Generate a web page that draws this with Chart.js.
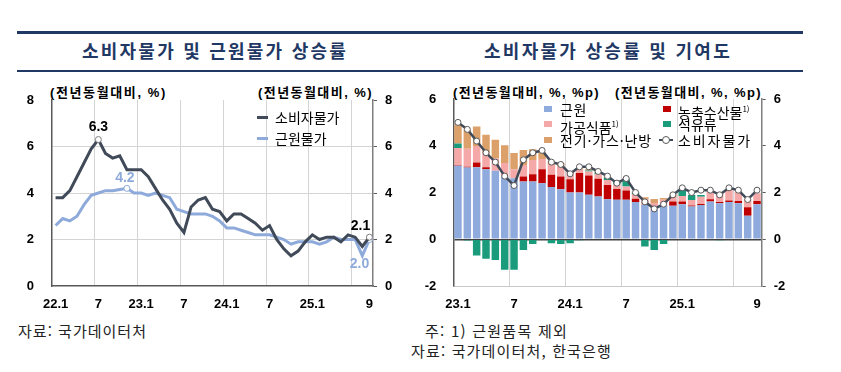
<!DOCTYPE html>
<html lang="ko">
<head>
<meta charset="UTF-8">
<title>소비자물가 및 근원물가 상승률</title>
<script src="https://cdn.jsdelivr.net/npm/chart.js"></script>
<style>
    body {
        margin: 0;
        width: 841px;
        height: 372px;
        position: relative;
        overflow: hidden;
        background: #fff;
        font-family: "Liberation Sans", "Noto Sans CJK KR", sans-serif;
        color: #000;
    }
    .abs { position: absolute; white-space: nowrap; }
    .rule { position: absolute; left: 17px; width: 786px; background: #1f3864; }
    .title { font: bold 18px "Noto Sans CJK KR", sans-serif; color: #1f3864; line-height: 24px; top: 38px; }
    .unit { font: bold 13px "Liberation Sans", "Noto Sans CJK KR", sans-serif; line-height: 16px; top: 85px; }
    .leg { font: 14px "Noto Sans CJK KR", sans-serif; line-height: 16px; }
    .leg sup { font-size: 8px; vertical-align: 6px; }
    .note { font: 15px "Noto Sans CJK KR", sans-serif; line-height: 16px; color: #222; }
    .sq { position: absolute; width: 8px; height: 6px; }
    canvas { position: absolute; top: 0; }
</style>
</head>
<body>
    <div class="rule" style="top:31px;height:3px"></div>
    <div class="rule" style="top:70px;height:2px"></div>

    <div class="abs title fit" data-w="266" style="left:82px">소비자물가 및 근원물가 상승률</div>
    <div class="abs title fit" data-w="248" style="left:484px">소비자물가 상승률 및 기여도</div>

    <div class="abs unit fit" data-w="117" style="left:50px">(전년동월대비, %)</div>
    <div class="abs unit fit" data-w="115" style="left:258px">(전년동월대비, %)</div>
    <div class="abs unit fit" data-w="147" style="left:453px">(전년동월대비, %, %p)</div>
    <div class="abs unit fit" data-w="147" style="left:615px">(전년동월대비, %, %p)</div>

    <canvas id="leftChart" width="420" height="320" style="left:0"></canvas>
    <canvas id="rightChart" width="421" height="320" style="left:420px"></canvas>

    <!-- left legend -->
    <div class="abs" style="left:257px;top:116px;width:11px;height:3px;background:#404a58"></div>
    <div class="abs leg" style="left:275px;top:109px">소비자물가</div>
    <div class="abs" style="left:257px;top:137px;width:11px;height:3px;background:#8eaadb"></div>
    <div class="abs leg" style="left:275px;top:130px">근원물가</div>

    <!-- right legend -->
    <div class="sq" style="left:544px;top:106px;background:#8faadc"></div>
    <div class="abs leg fit" data-w="27" style="left:560px;top:101px">근원</div>
    <div class="sq" style="left:544px;top:121px;background:#f4a8a8"></div>
    <div class="abs leg" style="left:560px;top:116px">가공식품<sup>1)</sup></div>
    <div class="sq" style="left:544px;top:137px;background:#dca06a"></div>
    <div class="abs leg fit" data-w="92" style="left:560px;top:132px">전기·가스·난방</div>
    <div class="sq" style="left:663px;top:106px;background:#c00000"></div>
    <div class="abs leg" style="left:678px;top:101px">농축수산물<sup>1)</sup></div>
    <div class="sq" style="left:663px;top:121px;background:#1a9c7c"></div>
    <div class="abs leg" style="left:678px;top:116px">석유류</div>
    <div class="abs" style="left:659px;top:139px;width:14px;height:2px;background:#404a58"></div>
    <div class="abs" style="left:662px;top:136px;width:6px;height:6px;border:1px solid #595959;border-radius:50%;background:#fff"></div>
    <div class="abs leg fit" data-w="74" style="left:678px;top:132px">소비자물가</div>

    <div class="abs note fit" data-w="129" style="left:18px;top:323px">자료: 국가데이터처</div>
    <div class="abs note fit" data-w="143" style="left:425px;top:323px">주: 1) 근원품목 제외</div>
    <div class="abs note fit" data-w="201" style="left:411px;top:343px">자료: 국가데이터처, 한국은행</div>

<script>
    // categories
    const months = [
        '22.1','22.2','22.3','22.4','22.5','22.6','22.7','22.8','22.9','22.10','22.11','22.12',
        '23.1','23.2','23.3','23.4','23.5','23.6','23.7','23.8','23.9','23.10','23.11','23.12',
        '24.1','24.2','24.3','24.4','24.5','24.6','24.7','24.8','24.9','24.10','24.11','24.12',
        '25.1','25.2','25.3','25.4','25.5','25.6','25.7','25.8','25.9'
    ];
    const tickMonths = ['22.1','22.7','23.1','23.7','24.1','24.7','25.1','25.9'];
    const tickText   = ['22.1','7','23.1','7','24.1','7','25.1','9'];
    const gridMonths = ['22.7','23.1','23.7','24.1','24.7','25.1','25.7'];

    // left chart: 소비자물가 / 근원물가 (%)
    const cpi = [
        3.8, 3.8, 4.1, 4.7, 5.3, 5.9, 6.3, 5.7, 5.5, 5.6, 5.0, 5.0,
        5.0, 4.7, 4.2, 3.7, 3.3, 2.7, 2.3, 3.4, 3.7, 3.8, 3.3, 3.2,
        2.8, 3.1, 3.1, 2.9, 2.7, 2.4, 2.6, 2.0, 1.6, 1.3, 1.5, 1.9,
        2.2, 2.0, 2.1, 2.1, 1.9, 2.2, 2.1, 1.7, 2.1
    ];
    const core = [
        2.6, 2.9, 2.8, 3.0, 3.5, 3.9, 4.0, 4.1, 4.1, 4.15, 4.2, 4.0,
        4.0, 3.9, 4.0, 3.9, 3.8, 3.3, 3.2, 3.1, 3.1, 3.1, 3.0, 2.8,
        2.5, 2.5, 2.4, 2.3, 2.2, 2.2, 2.2, 2.1, 2.0, 1.8, 1.9, 1.9,
        1.9, 1.8, 1.9, 2.1, 2.0, 2.0, 2.0, 1.3, 2.0
    ];
    const cpiMarks = ['22.7', '25.9'];
    const coreMarks = ['22.11', '25.9'];

    // right chart: 기여도 (%p), 23.1 ~ 25.9
    const months2 = months.slice(12);
    const contribCore = [
        3.14, 3.07, 3.08, 3.00, 2.93, 2.69, 2.61, 2.47, 2.47, 2.40, 2.23, 2.14,
        2.00, 2.00, 1.90, 1.83, 1.71, 1.69, 1.69, 1.59, 1.47, 1.26, 1.43, 1.43,
        1.50, 1.40, 1.47, 1.61, 1.54, 1.59, 1.54, 1.01, 1.50
    ];
    const contribAgri = [
        0.03, 0.03, 0.20, 0.08, 0.00, 0.00, 0.00, 0.21, 0.31, 0.60, 0.53, 0.54,
        0.57, 0.83, 0.83, 0.76, 0.61, 0.46, 0.40, 0.14, 0.00, 0.00, 0.00, 0.19,
        0.11, 0.04, 0.04, 0.10, 0.05, 0.07, 0.10, 0.36, 0.14
    ];
    const contribFood = [
        0.73, 0.77, 0.71, 0.60, 0.54, 0.57, 0.39, 0.50, 0.61, 0.43, 0.43, 0.43,
        0.26, 0.17, 0.17, 0.19, 0.21, 0.19, 0.17, 0.21, 0.24, 0.29, 0.26, 0.21,
        0.24, 0.24, 0.31, 0.33, 0.39, 0.46, 0.40, 0.34, 0.33
    ];
    const contribOil = [
        0.20, -0.05, -0.70, -0.83, -0.89, -1.31, -1.31, -0.46, -0.20, 0.00, -0.17, -0.20,
        -0.17, -0.04, 0.04, 0.06, 0.10, 0.14, 0.31, 0.06, -0.31, -0.46, -0.20, 0.00,
        0.26, 0.21, 0.07, -0.03, -0.04, 0.00, 0.00, 0.00, 0.00
    ];
    const contribUtil = [
        0.80, 0.80, 0.83, 0.79, 0.79, 0.76, 0.69, 0.64, 0.46, 0.29, 0.14, 0.14,
        0.03, 0.04, 0.06, 0.06, 0.04, 0.03, 0.04, 0.03, 0.09, 0.17, 0.07, 0.07,
        0.00, 0.00, 0.00, 0.00, 0.00, 0.00, 0.00, 0.00, 0.00
    ];
    const cpi2 = cpi.slice(12);

    const DARK = '#404a58';
    const LIGHT = '#8eaadb';
    const tickFont = { family: '"Liberation Sans", Arial, sans-serif', size: 13, weight: 'bold' };

    // stretch header/footnote texts to the widths they have in the original
    function fitTexts() {
        document.querySelectorAll('.fit').forEach(el => {
            el.style.letterSpacing = '0px';
            const natural = el.getBoundingClientRect().width;
            const n = el.textContent.length;
            el.style.letterSpacing = ((+el.dataset.w - natural) / n) + 'px';
        });
    }
    fitTexts();
    if (document.fonts) document.fonts.ready.then(fitTexts);

    function tickLabel(list) {
        return (v, i) => {
            const k = tickMonths.indexOf(list[i]);
            return k < 0 ? '' : tickText[k];
        };
    }

    // value labels next to marked points
    const annotations = [
        { ds: 0, month: '22.7',  values: cpi,  color: '#000',    dx: 0,   dy: -12 },
        { ds: 1, month: '22.11', values: core, color: '#8eaadb', dx: -2,  dy: -10 },
        { ds: 0, month: '25.9',  values: cpi,  color: '#000',    dx: -9,  dy: -11 },
        { ds: 1, month: '25.9',  values: core, color: '#8eaadb', dx: -10, dy: 25 }
    ];
    const valueLabels = {
        id: 'valueLabels',
        afterDatasetsDraw(chart) {
            const ctx = chart.ctx;
            ctx.save();
            ctx.font = 'bold 14px "Liberation Sans", Arial, sans-serif';
            ctx.textAlign = 'center';
            ctx.textBaseline = 'middle';
            annotations.forEach(a => {
                const idx = months.indexOf(a.month);
                const pt = chart.getDatasetMeta(a.ds).data[idx];
                ctx.fillStyle = a.color;
                ctx.fillText(a.values[idx].toFixed(1), pt.x + a.dx, pt.y + a.dy);
            });
            ctx.restore();
        }
    };

    new Chart(document.getElementById('leftChart'), {
        type: 'line',
        data: {
            labels: months,
            datasets: [
                {
                    label: '소비자물가',
                    data: cpi,
                    borderColor: DARK,
                    borderWidth: 3,
                    pointRadius: c => cpiMarks.includes(months[c.dataIndex]) ? 3 : 0,
                    pointBackgroundColor: '#fff',
                    pointBorderColor: '#7f7f7f',
                    pointBorderWidth: 1
                },
                {
                    label: '근원물가',
                    data: core,
                    borderColor: LIGHT,
                    borderWidth: 3,
                    pointRadius: c => coreMarks.includes(months[c.dataIndex]) ? 3 : 0,
                    pointBackgroundColor: '#fff',
                    pointBorderColor: '#8eaadb',
                    pointBorderWidth: 1
                }
            ]
        },
        options: {
            responsive: false,
            animation: false,
            devicePixelRatio: 1,
            layout: { padding: { top: 100, left: 0, right: 0, bottom: 0 } },
            plugins: { legend: { display: false }, tooltip: { enabled: false } },
            scales: {
                x: {
                    offset: true,
                    grid: {
                        offset: true,
                        drawTicks: false,
                        color: c => gridMonths.includes(months[c.index]) ? '#d4d4d4' : 'transparent'
                    },
                    border: { color: '#595959', width: 1.5 },
                    ticks: { autoSkip: false, maxRotation: 0, padding: 11, font: tickFont, color: '#000', callback: tickLabel(months) },
                    afterFit: s => { s.height = 34; }
                },
                y: {
                    min: 0, max: 8,
                    ticks: { stepSize: 2, padding: 18, font: tickFont, color: '#000' },
                    grid: { drawTicks: false, color: c => (c.tick.value > 0 && c.tick.value < 8) ? '#d4d4d4' : 'transparent' },
                    border: { color: '#595959', width: 1.5 },
                    afterFit: s => { s.width = 52; }
                },
                y2: {
                    position: 'right',
                    min: 0, max: 8,
                    ticks: { stepSize: 2, padding: 8, font: tickFont, color: '#000' },
                    grid: { drawOnChartArea: false, tickLength: 4, color: '#595959' },
                    border: { color: '#7f7f7f', width: 1.5 },
                    afterFit: s => { s.width = 47; }
                }
            }
        },
        plugins: [valueLabels]
    });

    new Chart(document.getElementById('rightChart'), {
        type: 'bar',
        data: {
            labels: months2,
            datasets: [
                { label: '근원', data: contribCore, backgroundColor: '#8faadc', order: 1 },
                { label: '농축수산물', data: contribAgri, backgroundColor: '#c00000', order: 1 },
                { label: '가공식품', data: contribFood, backgroundColor: '#f4a8a8', order: 1 },
                { label: '석유류', data: contribOil, backgroundColor: '#1a9c7c', order: 1 },
                { label: '전기·가스·난방', data: contribUtil, backgroundColor: '#dca06a', order: 1 },
                {
                    type: 'line',
                    label: '소비자물가',
                    data: cpi2,
                    stack: 'cpi',
                    order: 0,
                    borderColor: DARK,
                    borderWidth: 2.5,
                    pointRadius: 3,
                    pointBackgroundColor: '#fff',
                    pointBorderColor: '#595959',
                    pointBorderWidth: 1
                }
            ]
        },
        options: {
            responsive: false,
            animation: false,
            devicePixelRatio: 1,
            layout: { padding: { top: 99, left: 0, right: 0, bottom: 0 } },
            plugins: { legend: { display: false }, tooltip: { enabled: false } },
            datasets: { bar: { barPercentage: 0.8, categoryPercentage: 1.0 } },
            scales: {
                x: {
                    stacked: true,
                    grid: {
                        offset: true,
                        drawTicks: false,
                        color: c => (c.index > 0 && c.index % 6 === 0) ? '#d4d4d4' : 'transparent'
                    },
                    border: { color: '#c8c8c8', width: 1 },
                    ticks: { autoSkip: false, maxRotation: 0, padding: 11, font: tickFont, color: '#000', callback: tickLabel(months2) },
                    afterFit: s => { s.height = 34; }
                },
                y: {
                    stacked: true,
                    min: -2, max: 6,
                    ticks: { stepSize: 2, padding: 17, font: tickFont, color: '#000' },
                    grid: {
                        drawTicks: false,
                        color: c => c.tick.value === 0 ? '#404040' : 'transparent',
                        lineWidth: 1.5
                    },
                    border: { color: '#595959', width: 1.5 },
                    afterFit: s => { s.width = 33.3; }
                },
                y2: {
                    position: 'right',
                    min: -2, max: 6,
                    ticks: { stepSize: 2, padding: 8, font: tickFont, color: '#000' },
                    grid: { drawOnChartArea: false, tickLength: 4, color: '#595959' },
                    border: { color: '#7f7f7f', width: 1.5 },
                    afterFit: s => { s.width = 79.3; }
                }
            }
        }
    });
</script>
</body>
</html>
